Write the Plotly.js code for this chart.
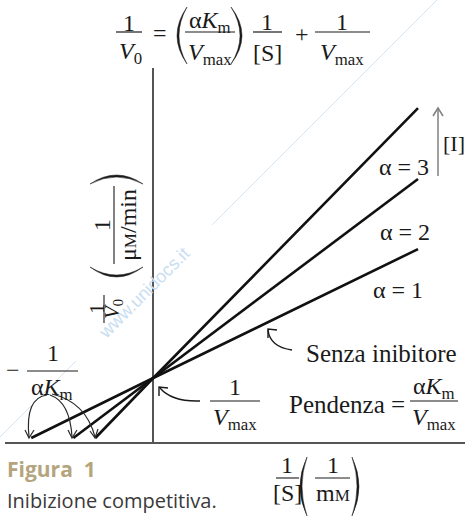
<!DOCTYPE html>
<html>
<head>
<meta charset="utf-8">
<script src="https://cdn.plot.ly/plotly-3.0.1.min.js"></script>
<style>
  html, body { margin: 0; padding: 0; background: #fff; }
  #chart { width: 465px; height: 517px; }
</style>
</head>
<body>
<div id="chart"></div>
<script>
// Lineweaver–Burk plot: competitive inhibition
// x = 1/[S], y = 1/V0 ; all lines share the same y-intercept 1/Vmax
const seriesNames  = ['α = 1', 'α = 2', 'α = 3'];
const xIntercepts  = [-2.0, -1.31, -0.95];   // -1/(αKm)
const yIntercept   = 1;                      // 1/Vmax
const xEnd         = 4.34;                   // last 1/[S] drawn
const yEnd         = [3.15, 4.32, 5.5];      // 1/V0 at xEnd

const SERIF = 'Liberation Serif, Times New Roman, serif';
const SANS  = 'Open Sans, Noto Sans, sans-serif';
const INK   = '#1a1a1a';
const FS    = 24;   // main serif size

// plot area in page pixels
const L = 5, T = 68, W = 460, H = 374;
const fx = px => (px - L) / W;
const fy = py => (T + H - py) / H;
const P  = (x, y) => fx(x) + ',' + fy(y);

const traces = seriesNames.map((name, i) => ({
  type: 'scatter',
  mode: 'lines',
  name: name,
  x: [xIntercepts[i], 0, xEnd],
  y: [0, yIntercept, yEnd[i]],
  line: { color: '#111', width: 2.6 },
  hoverinfo: 'skip'
}));

const annotations = [];
const shapes = [];

function txt(x, y, text, size, extra) {
  annotations.push(Object.assign({
    xref: 'paper', yref: 'paper', x: fx(x), y: fy(y),
    text: text, showarrow: false, xanchor: 'center', yanchor: 'middle',
    font: { family: SERIF, size: size, color: INK }
  }, extra || {}));
}
function seg(x0, y0, x1, y1, color, width) {
  shapes.push({ type: 'line', xref: 'paper', yref: 'paper',
    x0: fx(x0), y0: fy(y0), x1: fx(x1), y1: fy(y1),
    line: { color: color || INK, width: width || 1.3 } });
}
function path(d, color, width, fill) {
  shapes.push({ type: 'path', xref: 'paper', yref: 'paper', path: d,
    fillcolor: fill || 'rgba(0,0,0,0)',
    line: { color: color || INK, width: width || 1.3 } });
}
// tall parenthesis: ends at (xe, yTop) and (xe, yBot), bulge control at cx
function vParen(xe, yTop, yBot, cx, th) {
  const m = (yTop + yBot) / 2;
  path('M' + P(xe, yTop) + ' Q' + P(cx, m) + ' ' + P(xe, yBot) +
       ' Q' + P(cx + th, m) + ' ' + P(xe, yTop) + ' Z', INK, 0.5, INK);
}
// wide (rotated) parenthesis: ends at (xL, ye) and (xR, ye), bulge control at cy
function hParen(xL, xR, ye, cy, th) {
  const m = (xL + xR) / 2;
  path('M' + P(xL, ye) + ' Q' + P(m, cy) + ' ' + P(xR, ye) +
       ' Q' + P(m, cy + th) + ' ' + P(xL, ye) + ' Z', INK, 0.5, INK);
}
const VMAX = '<i>V</i><sub>max</sub>';
const AKM  = 'α<i>K</i><sub>m</sub>';

// ---- watermark ----
seg(0, 437, 76, 361, '#d3e5f5', 1);
seg(212, 225, 437, 0, '#d3e5f5', 1);
txt(144, 293, 'www.unidocs.it', 18,
  { textangle: -45, font: { family: 'Liberation Sans, Arial, sans-serif', size: 18, color: '#c9def2' } });

// ---- equation at the top ----
txt(129, 23, '1', FS);
seg(116, 32, 142, 32, INK, 1.2);
txt(130, 53, '<i>V</i><sub>0</sub>', FS);
txt(160, 33, '=', FS);
vParen(187, 7, 64, 167, 4);
txt(210, 22, AKM, FS);
seg(185, 32, 235, 32, INK, 1.2);
txt(210, 54, VMAX, FS);
vParen(231, 7, 64, 253, -4);
txt(267, 22, '1', FS);
seg(253, 32, 282, 32, INK, 1.2);
txt(267, 53, '[S]', FS);
txt(302, 34, '+', FS);
txt(342, 22, '1', FS);
seg(315, 32, 370, 32, INK, 1.2);
txt(342, 54, VMAX, FS);

// ---- y-axis title (rotated) ----
txt(97, 309, '1', 21, { textangle: -90 });
seg(104, 295, 104, 323, INK, 1.1);
txt(113, 309, '<i>V</i><sub>0</sub>', 21, { textangle: -90 });
hParen(90, 143, 267, 287, -4);
txt(102, 225, '1', FS, { textangle: -90 });
seg(114, 186, 114, 264, INK, 1.1);
txt(128, 225, 'μ<span style="font-size:17px">M</span>/min', FS, { textangle: -90 });
hParen(90, 143, 184, 166, 4);

// ---- x-axis title ----
txt(287, 465, '1', FS);
seg(276, 478, 299, 478, INK, 1.1);
txt(287, 493, '[S]', FS);
vParen(307, 457, 516, 293, 4);
txt(333, 465, '1', FS);
seg(315, 478, 350, 478, INK, 1.1);
txt(333, 493, 'm<span style="font-size:17px">M</span>', FS);
vParen(352, 457, 516, 366, -4);

// ---- series labels ----
txt(404, 167, 'α = 3', FS);
txt(405, 232, 'α = 2', FS);
txt(398, 290, 'α = 1', FS);

// [I] arrow
seg(438, 176, 438, 108, '#808080', 1.5);
path('M' + P(433, 116) + ' L' + P(438, 108) + ' L' + P(443, 116), '#808080', 1.5);
txt(454, 143, '[I]', 22);

// "Senza inibitore" with curved arrow
txt(381, 353, 'Senza inibitore', 25);
path('M' + P(292, 350) + ' Q' + P(270, 347) + ' ' + P(268, 330), INK, 1.4);
path('M' + P(268, 338) + ' L' + P(268, 329) + ' L' + P(277, 330), INK, 1.4);

// 1/Vmax with curved arrow to the intercept
txt(235, 387, '1', FS);
seg(210, 401, 260, 401, INK, 1.1);
txt(235, 419, VMAX, FS);
path('M' + P(200, 401) + ' Q' + P(172, 402) + ' ' + P(160, 388), INK, 1.4);
path('M' + P(159, 396) + ' L' + P(159, 387) + ' L' + P(168, 388), INK, 1.4);

// slope label
txt(347, 404, 'Pendenza =', 25);
txt(434, 388, AKM, FS);
seg(410, 401, 458, 401, INK, 1.1);
txt(434, 419, VMAX, FS);

// -1/(αKm) with arrows to the x-intercepts
txt(13, 370, '−', FS);
txt(53, 353, '1', FS);
seg(27, 371, 78, 371, INK, 1.1);
txt(52, 389, AKM, FS);
path('M' + P(47, 395) + ' Q' + P(25, 398) + ' ' + P(29, 437), '#2a2a2a', 1.2);
path('M' + P(25, 430) + ' L' + P(29, 438) + ' L' + P(34, 430), '#2a2a2a', 1.2);
path('M' + P(50, 395) + ' Q' + P(70, 402) + ' ' + P(72, 437), '#2a2a2a', 1.2);
path('M' + P(68, 430) + ' L' + P(72, 438) + ' L' + P(77, 430), '#2a2a2a', 1.2);
path('M' + P(52, 394) + ' Q' + P(86, 402) + ' ' + P(95, 437), '#2a2a2a', 1.2);
path('M' + P(90, 431) + ' L' + P(95, 438) + ' L' + P(98, 429), '#2a2a2a', 1.2);

// ---- caption ----
annotations.push({ xref: 'paper', yref: 'paper', x: fx(5), y: fy(469),
  xanchor: 'left', yanchor: 'middle', showarrow: false,
  text: '<b>Figura  1</b>', font: { family: SANS, size: 21, color: '#b4a57e' } });
annotations.push({ xref: 'paper', yref: 'paper', x: fx(5), y: fy(500),
  xanchor: 'left', yanchor: 'middle', showarrow: false,
  text: 'Inibizione competitiva.', font: { family: SANS, size: 20, color: '#3a3a3a' } });

const layout = {
  width: 465, height: 517, autosize: false,
  margin: { l: L, r: 0, t: T, b: 517 - T - H, pad: 0 },
  paper_bgcolor: '#ffffff', plot_bgcolor: '#ffffff',
  showlegend: false,
  xaxis: {
    range: [-2.43, 5.11], showgrid: false, showticklabels: false, ticks: '',
    showline: true, linecolor: '#555', linewidth: 2,
    zeroline: true, zerolinecolor: '#555', zerolinewidth: 2, fixedrange: true
  },
  yaxis: {
    range: [-0.067, 6.17], showgrid: false, showticklabels: false, ticks: '',
    showline: false, zeroline: false, fixedrange: true
  },
  shapes: shapes,
  annotations: annotations
};

Plotly.newPlot('chart', traces, layout, { staticPlot: true, displayModeBar: false });
</script>
</body>
</html>
